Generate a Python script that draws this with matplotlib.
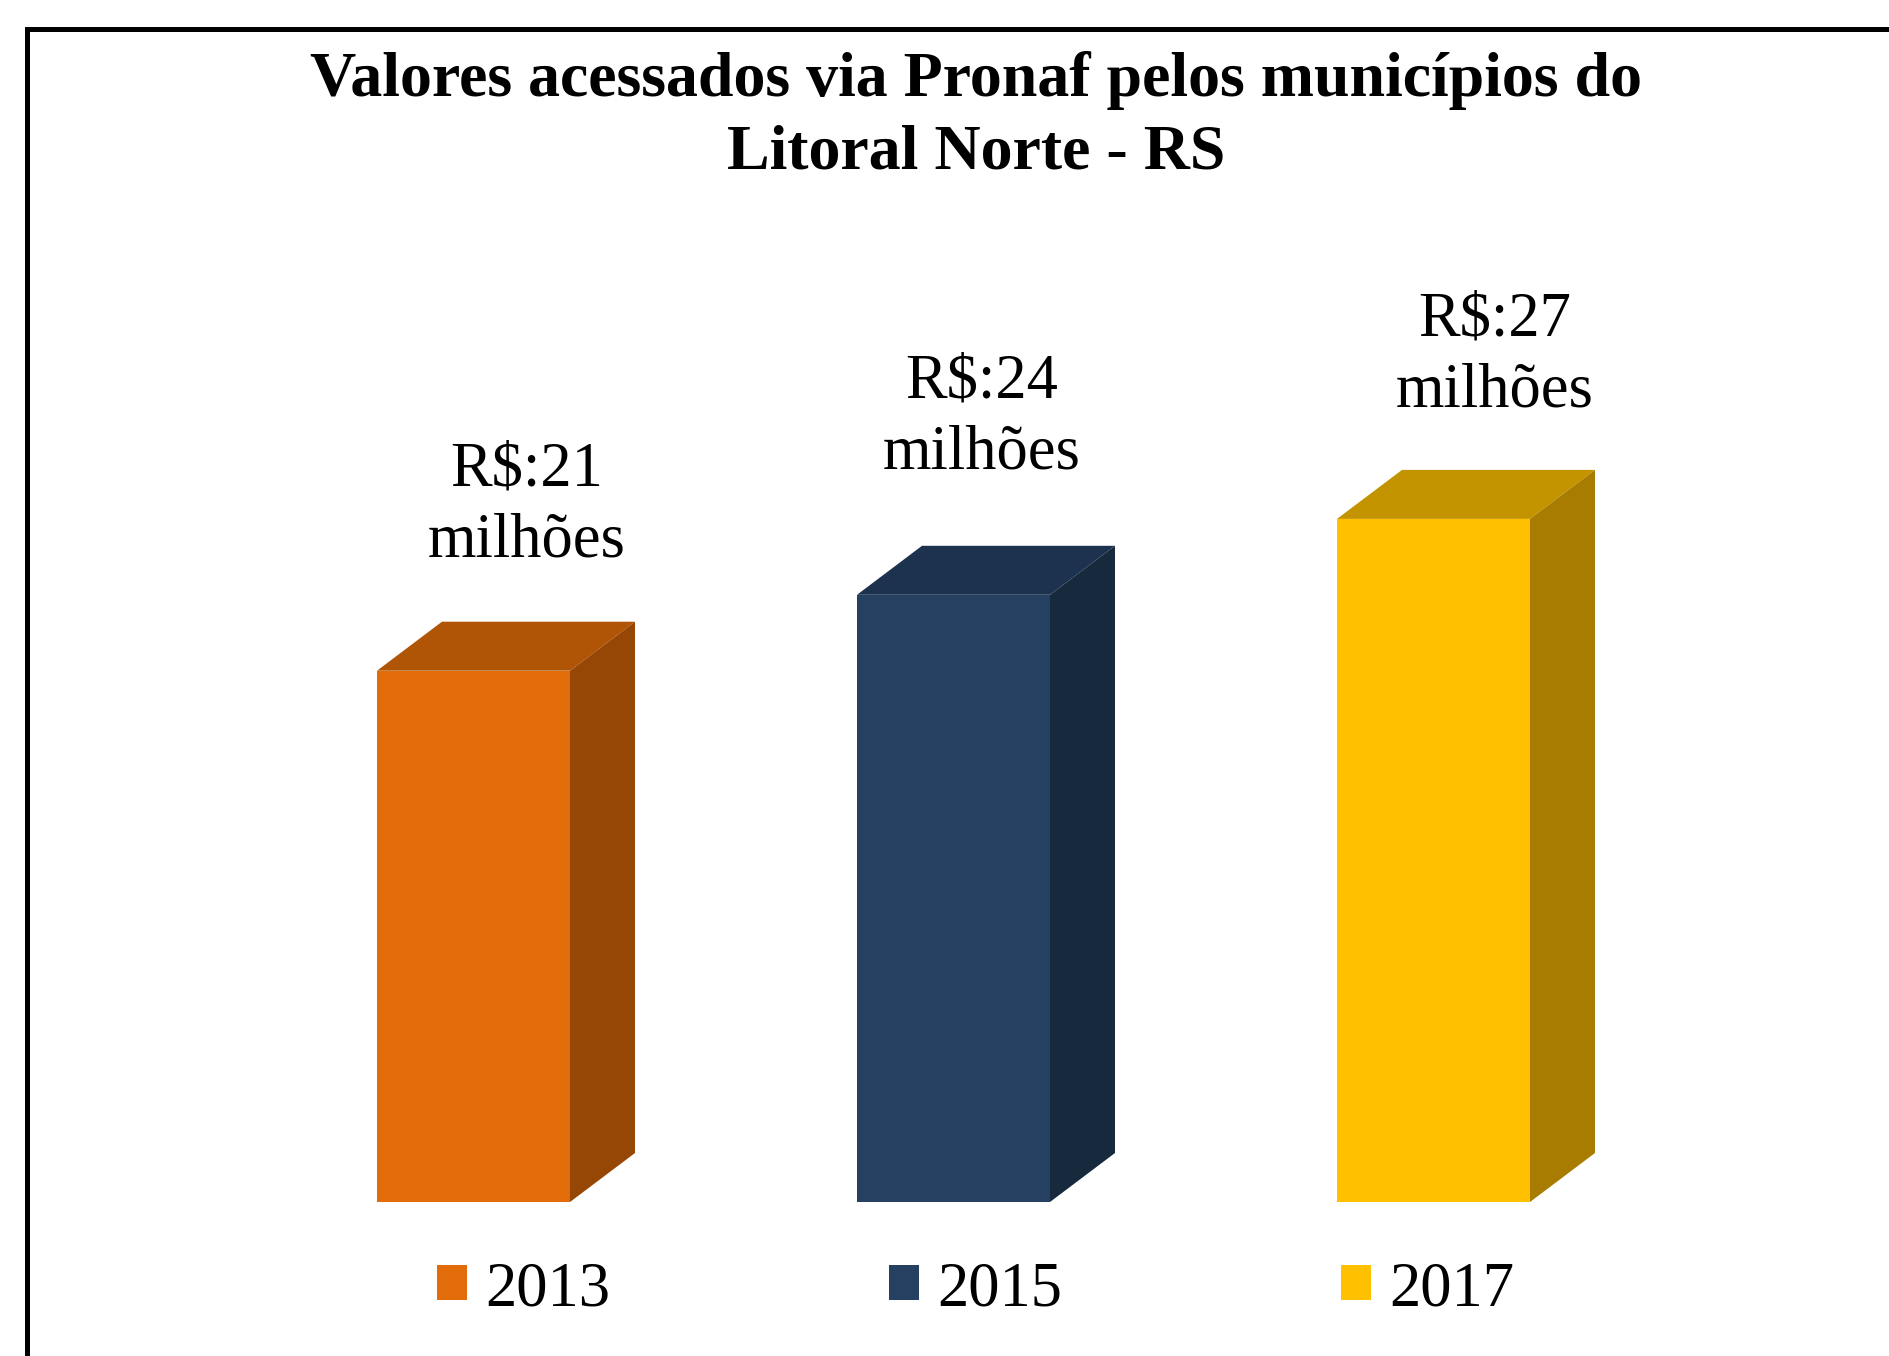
import matplotlib.pyplot as plt
from matplotlib.patches import Polygon, Rectangle, Patch

plt.rcParams['font.family'] = ['Liberation Serif', 'DejaVu Serif']

# data
anos = ['2013', '2015', '2017']
valores = [21, 24, 27]  # milhões de R$
rotulos = ['R$:21\nmilhões', 'R$:24\nmilhões', 'R$:27\nmilhões']
cor_frente = ['#E36C0A', '#254061', '#FFC000']
cor_topo = ['#B05405', '#1C324E', '#C49400']
cor_lado = ['#964605', '#17293D', '#A87C00']

W, H = 1889, 1356
fig = plt.figure(figsize=(W / 100, H / 100), dpi=100)

# axes: x=0,1,2 centros das barras; y em milhões, base em y=1202 px
base_px = 1202
px_por_mi = 25.3
passo = 480.0
x0 = 473.5
ax = fig.add_axes([0, (H - base_px) / H, 1, base_px / H])
ax.set_xlim(-x0 / passo, (W - x0) / passo)
ax.set_ylim(0, base_px / px_por_mi)
ax.axis('off')

larg = 193 / passo
dx = 65 / passo
dy = 49 / px_por_mi

xs = list(range(len(valores)))
ax.bar(xs, valores, width=larg, color=cor_frente, linewidth=0, zorder=3)
for i, v in enumerate(valores):
    l, r = i - larg / 2, i + larg / 2
    topo = Polygon([(l, v), (r, v), (r + dx, v + dy), (l + dx, v + dy)],
                   closed=True, facecolor=cor_topo[i], edgecolor='none', zorder=3)
    lado = Polygon([(r, 0), (r + dx, dy), (r + dx, v + dy), (r, v)],
                   closed=True, facecolor=cor_lado[i], edgecolor='none', zorder=3)
    ax.add_patch(topo)
    ax.add_patch(lado)

# rótulos (deslocamento como no original)
desloc = [0.11, 0.059, 0.128]
gaps = [65, 77, 63]
for i, v in enumerate(valores):
    ax.text(i + desloc[i], v + dy + gaps[i] / px_por_mi, rotulos[i], ha='center',
            va='baseline', fontsize=45, linespacing=1.3, zorder=4)

# título
fig.text(976 / W, 1 - 168.7 / H,
         'Valores acessados via Pronaf pelos municípios do\nLitoral Norte - RS',
         ha='center', va='baseline', fontsize=46, fontweight='bold', linespacing=1.34)

# legenda
handles = [Patch(facecolor=c, edgecolor='none') for c in cor_frente]
fig.legend(handles, anos, loc='center', bbox_to_anchor=(975.5 / W, 66 / H), ncol=3,
           frameon=False, fontsize=45, handlelength=0.48, handleheight=0.48,
           handletextpad=0.29, columnspacing=4.46)

# moldura (cortada à direita e embaixo)
fig.patches.append(Rectangle((26.5 / W, -0.1), 1.2, 1.1 - 29.5 / H, transform=fig.transFigure,
                             fill=False, edgecolor='black', linewidth=3.6, zorder=10))

fig.savefig('out.png', dpi=100, facecolor='white')
